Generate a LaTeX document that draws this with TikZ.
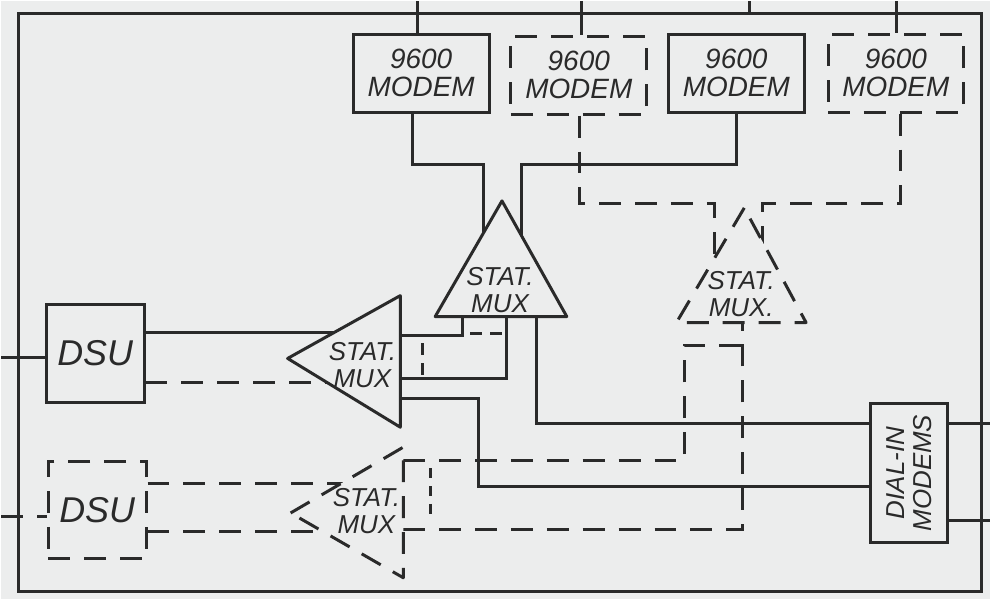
\documentclass[tikz,border=0pt]{standalone}
\usepackage{fontspec}
\setmainfont{Liberation Sans}
\usetikzlibrary{calc}
\definecolor{paper}{HTML}{ECEDED}
\definecolor{ink}{HTML}{2A2A2A}

\begin{document}
\begin{tikzpicture}[x=0.5pt, y=-0.5pt, line width=1.5pt, color=ink,
    wire/.style={draw=ink, line width=1.5pt},
    dwire/.style={wire, dash pattern=on 11pt off 7pt},
    box/.style={draw=ink, line width=1.5pt, inner sep=0pt, align=center,
                font=\fontsize{14}{14}\selectfont\itshape},
    dbox/.style={box, dash pattern=on 11pt off 7pt},
    modem/.style={box, minimum width=68pt, minimum height=39pt},
    dmodem/.style={modem, dash pattern=on 11pt off 7pt},
    dsu/.style={minimum width=49pt, minimum height=49pt,
                font=\fontsize{18}{18}\selectfont\itshape},
    mux/.style={fill=paper, draw=ink, line width=1.5pt, line join=round},
    dmux/.style={mux, dash pattern=on 11pt off 7pt},
    lbl/.style={align=center, font=\fontsize{13}{13.5}\selectfont\itshape}]

  % paper and frame
  \fill[paper] (0,0) rectangle (991,599);
  \draw[wire, line width=1.7pt] (17,12) rectangle (983,592);

  % the four 9600 modems along the top
  \node[modem]  (M1) at (421,72) {9600\\MODEM};
  \node[dmodem] (M2) at (579,74) {9600\\MODEM};
  \node[modem]  (M3) at (737,72) {9600\\MODEM};
  \node[dmodem] (M4) at (897,72) {9600\\MODEM};

  % DSUs on the left, dial-in modems on the right
  \node[box, dsu]  (D1) at (94,353) {DSU};
  \node[dbox, dsu] (D2) at (96,510) {DSU};
  \node[box, minimum width=38.5pt, minimum height=69.5pt] (DI) at (910,473) {};
  \node[lbl, rotate=90] (DIt) at (DI) {DIAL-IN\\MODEMS};

  % lines leaving through the top edge
  \draw[wire] (417,0) -- ([xshift=-2pt]M1.north);
  \draw[wire] (582,0) -- ([xshift=1.5pt]M2.north);
  \draw[wire] (750,0) -- (750,12);
  \draw[wire] (898,0) -- ([xshift=0.5pt]M4.north);

  % modems down to the upright muxes
  \draw[wire]  ([xshift=-4.5pt]M1.south) |- (483,163) -- (483,250);
  \draw[wire]  (M3.south) |- (522,163) -- (522,250);
  \draw[dwire] ([xshift=0.5pt]M2.south) |- (715,203) -- (715,275);
  \draw[dwire] ([xshift=2.5pt]M4.south) |- (763,203) -- (763,275);

  % DSUs to the sideways muxes
  \draw[wire]  (0,357) -- ([yshift=-2pt]D1.west);
  \draw[wire]  ([yshift=10.5pt]D1.east) -- (350,332);
  \draw[dwire] ([yshift=-14.5pt]D1.east) -- (350,382);
  \draw[dwire] (0,517) -- ([yshift=-3.5pt]D2.west);
  \draw[dwire] ([yshift=13.5pt]D2.east) -- (360,483);
  \draw[dwire] ([yshift=-11pt]D2.east) -- (360,532);

  % left mux up into the centre mux, and on to the dial-in modems
  \draw[wire] (400,335) -| (462,310);
  \draw[wire] (400,378) -| (507,310);
  \draw[dwire, dash pattern=on 6pt off 4pt] (470,333) -- (505,333);
  \draw[dwire, dash pattern=on 6pt off 4pt] (422,343) -- (422,376);
  \draw[wire] (400,398) -| (478,486) -- ([yshift=-6.5pt]DI.west);
  \draw[wire] (537,310) |- ([yshift=25pt]DI.west);
  \draw[wire] ([yshift=25pt]DI.east) -- (991,423);
  \draw[wire] ([yshift=-24pt]DI.east) -- (991,521);

  % the standby (dashed) mux pair
  \draw[dwire] (403,460) -| (685,345) -- (743,345);
  \draw[dwire] (403,530) -| (743,316);
  \draw[dwire, dash pattern=on 5pt off 4pt] (430,468) -- (430,518);

  % stat muxes
  \draw[mux]  (502,200) -- (435,316) -- (567,316) -- cycle;
  \draw[dmux] (745,207) -- (677,322) -- (807,322) -- cycle;
  \draw[mux]  (287,358) -- (400,295) -- (400,427) -- cycle;
  \draw[dmux] (290,513) -- (403,447) -- (403,578) -- cycle;
  \node[lbl] (MC) at (500,289) {STAT.\\MUX};
  \node[lbl] (MD) at (742,293) {STAT.\\MUX.};
  \node[lbl] (ML) at (362,365) {STAT.\\MUX};
  \node[lbl] (MB) at (366,511) {STAT.\\MUX};
\end{tikzpicture}
\end{document}
